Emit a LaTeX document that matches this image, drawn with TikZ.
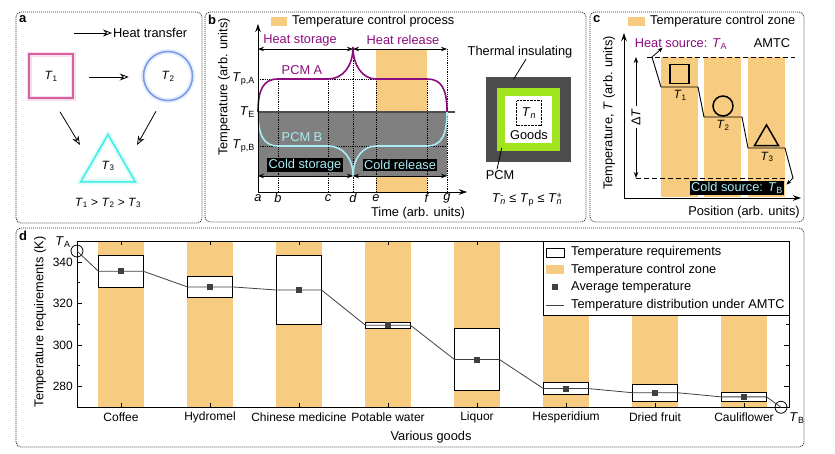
\documentclass[tikz,border=0pt]{standalone}
\usepackage{fontspec}
\setmainfont{Liberation Sans}
\usetikzlibrary{arrows.meta,shapes.geometric,calc,positioning}

\definecolor{pinkT}{RGB}{214,96,160}
\definecolor{blueT}{RGB}{120,155,232}
\definecolor{cyanT}{RGB}{64,238,230}
\definecolor{pcmA}{RGB}{140,12,128}
\definecolor{pcmB}{RGB}{168,236,244}
\definecolor{zone}{RGB}{247,203,128}
\definecolor{coldgray}{RGB}{128,128,128}
\definecolor{insul}{RGB}{77,77,77}
\definecolor{pcmgreen}{RGB}{160,228,30}
\definecolor{avgsq}{RGB}{64,64,64}

\newcommand\Tv[1]{\textit{T}\textsubscript{#1}}
\newcommand\Tn[1]{\textit{T}\makebox[0.42em][l]{\rlap{\textsubscript{\textit{n}}}\textsuperscript{#1}}}

\begin{document}
\begin{tikzpicture}[x=1pt, y=-1pt,
    panelbox/.style={draw=black!85, dash pattern=on 1pt off 1pt, line width=0.8pt, rounded corners=5pt},
    paneltag/.style={font=\bfseries\fontsize{13}{14}\selectfont, inner sep=0pt, anchor=north west},
    txtlabel/.style={font=\fontsize{12.8}{14}\selectfont, inner sep=1pt},
    ticklabel/.style={font=\fontsize{12}{13}\selectfont, inner sep=1pt},
    heatarrow/.style={draw, line width=0.8pt, -{Stealth[open, length=9pt, width=7pt]}},
    axisarrow/.style={draw, line width=1pt, -{Stealth[length=8pt, width=5.5pt]}},
    spanarrow/.style={draw, line width=0.8pt, {Stealth[length=6pt, width=4.5pt]}-{Stealth[length=6pt, width=4.5pt]}},
    guideline/.style={draw, densely dotted, line width=0.8pt},
    blackbox/.style={fill=black, text=pcmB, inner sep=1.5pt, font=\fontsize{12.8}{14}\selectfont},
    glowline/.style={preaction={draw=#1, line width=5pt, opacity=0.2}},
    avgmark/.style={fill=avgsq, minimum size=6pt, inner sep=0pt},
    endmark/.style={draw, circle, minimum size=12pt, inner sep=0pt, line width=0.8pt}
]
\useasboundingbox (0,0) rectangle (835,453);

% a
\draw[panelbox] (16,12) rectangle (202,223);
\node[paneltag] (TagA) at (19,15) {a};
\coordinate (HeatStart) at (74,33);
\node[txtlabel, anchor=west] (HeatLabel) at (112,33) {Heat transfer};
\draw[heatarrow] (HeatStart) -- (HeatLabel.west);
\node[draw=pinkT, line width=1.5pt, glowline=pinkT, minimum size=44pt, ticklabel] (T1) at (51,76) {\Tv{1}};
\node[draw=blueT, circle, line width=1.5pt, glowline=blueT, minimum size=49pt, ticklabel] (T2) at (168,76) {\Tv{2}};
\node[draw=cyanT, regular polygon, regular polygon sides=3, line width=1.5pt, glowline=cyanT,
      minimum size=63pt, inner sep=0pt, ticklabel] (T3) at (108,166) {\Tv{3}};
\draw[heatarrow] ($(T1.east)+(15,1)$) -- ($(T2.west)+(-14,1)$);
\draw[heatarrow] ($(T1.south)+(9,13)$) -- ($(T3.center)+(-28,-21)$);
\draw[heatarrow] ($(T2.south)+(-12,10)$) -- ($(T3.center)+(29,-21)$);
\node[ticklabel] (Order) at (108,203) {\Tv{1} > \Tv{2} > \Tv{3}};

% b
\draw[panelbox] (205,12) rectangle (586,222);
\node[paneltag] (TagB) at (208,15) {b};
\fill[zone] (271,17) rectangle (287,26);
\node[txtlabel, anchor=west] (LegendB) at (291,21) {Temperature control process};
\fill[zone] (376,49) rectangle (427,192);
\fill[coldgray] (258,112) rectangle (447,176);
\draw[guideline] (258,79) -- (376,79);
\draw[guideline] (258,146) -- (447,146);
\foreach \gx/\gy in {278/79, 328/79, 353/47, 376/79, 427/79, 447/49}
  \draw[guideline] (\gx,\gy) -- (\gx,192);
\draw[line width=2pt, black!70] (258,112) -- (455,112);
\draw[pcmA, line width=1.6pt] (258,112) .. controls (258,90) and (263,79) .. (278,79) -- (328,79)
  .. controls (343,79) and (353,66) .. (353,47) .. controls (353,66) and (363,79) .. (376,79) -- (427,79)
  .. controls (441,79) and (447,88) .. (447,112);
\draw[pcmB, line width=1.6pt] (258,112) .. controls (258,134) and (263,146) .. (278,146) -- (328,146)
  .. controls (343,146) and (353,158) .. (353,176) .. controls (353,158) and (363,146) .. (376,146) -- (427,146)
  .. controls (441,146) and (447,136) .. (447,112);
\draw[spanarrow] (258,49) -- (353,49);
\draw[spanarrow] (353,49) -- (447,49);
\draw[spanarrow] (258,176) -- (353,176);
\draw[spanarrow] (353,176) -- (447,176);
\draw[axisarrow] (258,192) -- (258,24);
\draw[axisarrow] (258,192) -- (467,192);
\node[txtlabel, text=pcmA] (HeatStorage) at (300,40) {Heat storage};
\node[txtlabel, text=pcmA] (HeatRelease) at (403,40) {Heat release};
\node[txtlabel, text=pcmA] (PcmA) at (302,70) {PCM A};
\node[txtlabel, text=pcmB] (PcmB) at (302,137) {PCM B};
\node[blackbox] (ColdStorage) at (305,165) {Cold storage};
\node[blackbox] (ColdRelease) at (400,165) {Cold release};
\node[txtlabel, anchor=east] (TpA) at (256,79) {\Tv{p,A}};
\node[txtlabel, anchor=east] (TE) at (256,112) {\Tv{E}};
\node[txtlabel, anchor=east] (TpB) at (256,146) {\Tv{p,B}};
\foreach \tx/\tl in {258/a, 278/b, 328/c, 353/d, 376/e, 427/f, 447/g}
  \node[txtlabel, inner sep=0pt] (Tick\tl) at (\tx,198) {\textit{\tl}};
\node[txtlabel, inner sep=0pt] (TimeLabel) at (418,213) {Time (arb. units)};
\node[txtlabel, rotate=90] (TempLabelB) at (224,87) {Temperature (arb. units)};

\node[fill=insul, minimum size=85pt, inner sep=0pt] (Insulation) at (528.5,119) {};
\node[fill=pcmgreen, minimum size=63pt, inner sep=0pt] (PcmRing) at (528.5,119) {};
\node[fill=white, minimum size=47pt, inner sep=0pt] (GoodsBox) at (528.5,119.5) {};
\node[draw, densely dotted, minimum size=25pt, inner sep=0pt, txtlabel] (Tn) at (529,113) {\textit{T}\textsubscript{\textit{n}}};
\node[txtlabel] (Goods) at (529,135) {Goods};
\node[txtlabel] (ThermLabel) at (520,52) {Thermal insulating};
\draw[line width=0.8pt] ($(ThermLabel.south)+(6,0)$) -- ($(Insulation.north)+(-15,3)$);
\node[txtlabel] (PcmLabel) at (500,175) {PCM};
\draw[line width=0.8pt] ($(PcmLabel.north)+(-3,0)$) -- ($(PcmRing.south west)+(5,-3)$);
\node[txtlabel] (Range) at (527,200) {\Tn{-} ≤ \Tv{p} ≤ \Tn{+}};

% c
\draw[panelbox] (590,12) rectangle (804,222);
\node[paneltag] (TagC) at (593,15) {c};
\fill[zone] (628,17) rectangle (645,26);
\node[txtlabel, anchor=west] (LegendC) at (649,21) {Temperature control zone};
\foreach \zx in {661,704,748}
  \fill[zone] (\zx,57) rectangle ++(37,140);
\draw[axisarrow] (624,198) -- (624,33);
\draw[axisarrow] (624,198) -- (801,198);
\draw[line width=0.8pt, dash pattern=on 5pt off 3pt] (647,57) -- (795,57);
\draw[line width=0.8pt, dash pattern=on 5pt off 3pt] (636,178) -- (786,178);
\draw[spanarrow] (636,57) -- (636,178);
\node[txtlabel, rotate=90, fill=white, inner sep=2pt] (DeltaT) at (636,117) {Δ\textit{T}};
\coordinate (ProfTop) at (652,57);
\coordinate (ProfEnd) at (793,178);
\draw[line width=0.9pt] (ProfTop) -- (661,87) -- (698,87) -- (704,117) -- (742,117) -- (748,148) -- (785,148) -- (ProfEnd);
\node[txtlabel, text=pcmA] (HeatSource) at (681,44) {Heat source: \Tv{A}};
\node[txtlabel] (Amtc) at (772,43) {AMTC};
\node[blackbox] (ColdSource) at (737,188) {Cold source: \Tv{B}};
\draw[line width=0.8pt, -{Stealth[length=5pt, width=4pt]}] (ProfTop) -- ($(HeatSource.south west)+(29,-3)$);
\draw[line width=0.8pt, -{Stealth[length=5pt, width=4pt]}] (ProfEnd) -- ($(ColdSource.north east)+(2,4)$);
\node[draw, line width=1.5pt, minimum size=19pt, inner sep=0pt] (Square) at (679.5,74) {};
\node[draw, circle, line width=1.5pt, minimum size=20pt, inner sep=0pt] (Circle) at (723,106) {};
\node[draw, regular polygon, regular polygon sides=3, line width=1.5pt, minimum size=27.7pt, inner sep=0pt] (Triangle) at (766.5,138.7) {};
\node[ticklabel] (C1) at (680,95) {\Tv{1}};
\node[ticklabel] (C2) at (723,125) {\Tv{2}};
\node[ticklabel] (C3) at (767,157) {\Tv{3}};
\node[txtlabel] (PosLabel) at (744,212) {Position (arb. units)};
\node[txtlabel, rotate=90] (TempLabelC) at (609,113) {Temperature, \textit{T} (arb. units)};

% d
\draw[panelbox] (16,228) rectangle (804,447);
\node[paneltag] (TagD) at (19,231) {d};
\begin{scope}[y=2.075pt, yshift=-967.5pt]
  \foreach \gx in {121,210,...,744}
    \fill[zone] (\gx-23,270) rectangle (\gx+23,350);
  \draw[line width=1pt] (77,270) rectangle (789,350);
  \foreach \t in {270,280,...,350} {
    \draw[line width=0.8pt] (77,\t) -- ++(3pt,0pt);
    \draw[line width=0.8pt] (789,\t) -- ++(-3pt,0pt);
  }
  \foreach \t in {280,300,320,340} {
    \draw[line width=0.8pt] (77,\t) -- ++(5pt,0pt);
    \draw[line width=0.8pt] (789,\t) -- ++(-5pt,0pt);
    \node[ticklabel, anchor=east] (YTick\t) at (74,\t) {\t};
  }
  \foreach \gx/\lo/\hi/\av/\gname [count=\i] in {121/328/343/335.5/Coffee, 210/323/333/328/Hydromel,
      299/310/343/326.5/Chinese medicine, 388/308/311/309.5/Potable water, 477/278/308/293/Liquor,
      566/276/282/279/Hesperidium, 655/273/281/277/Dried fruit, 744/273/277/275/Cauliflower} {
    \draw[line width=0.8pt] (\gx,350) -- ++(0pt,-4pt);
    \draw[line width=0.8pt] (\gx,270) -- ++(0pt,4pt);
    \draw[line width=0.8pt, fill=white] (\gx-22.5,\lo) rectangle (\gx+22.5,\hi);
    \coordinate (L\i) at (\gx-22.5,\av);
    \coordinate (R\i) at (\gx+22.5,\av);
    \node[avgmark] (Avg\i) at (\gx,\av) {};
    \node[ticklabel] (Good\i) at (\gx,265) {\gname};
  }
  \node[endmark] (TAmark) at (77,345.3) {};
  \node[endmark] (TBmark) at (781,270) {};
  \draw[line width=0.8pt, avgsq] (TAmark.center) -- (L1) -- (R1) -- (L2) -- (R2) -- (L3) -- (R3) -- (L4) -- (R4)
    -- (L5) -- (R5) -- (L6) -- (R6) -- (L7) -- (R7) -- (L8) -- (R8) -- (TBmark.center);
  \foreach \i in {1,...,8}
    \node[avgmark] at (Avg\i) {};
\end{scope}
\node[txtlabel] (TAlabel) at (63,242) {\Tv{A}};
\node[txtlabel] (TBlabel) at (797,418) {\Tv{B}};
\node[txtlabel, rotate=90] (TempLabelD) at (40,322) {Temperature requirements (K)};
\node[txtlabel] (GoodsLabel) at (431,437) {Various goods};

\draw[line width=1pt, fill=white] (543,241) rectangle (789,315);
\draw[line width=0.8pt] (546,248) rectangle (564,257);
\node[txtlabel, anchor=west] (LegReq) at (570,252) {Temperature requirements};
\fill[zone] (546,265) rectangle (564,274);
\node[txtlabel, anchor=west] (LegZone) at (570,270) {Temperature control zone};
\node[avgmark] (LegAvgMark) at (555,287) {};
\node[txtlabel, anchor=west] (LegAvg) at (570,287) {Average temperature};
\draw[line width=0.8pt, avgsq] (546,305) -- (564,305);
\node[txtlabel, anchor=west] (LegLine) at (570,305) {Temperature distribution under AMTC};
\end{tikzpicture}
\end{document}
